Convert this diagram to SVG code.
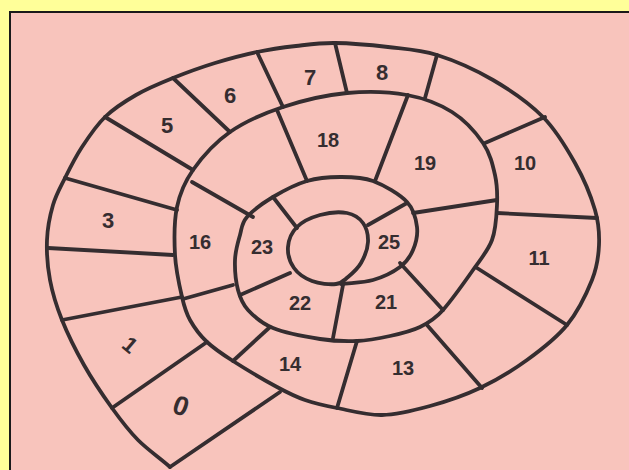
<svg xmlns="http://www.w3.org/2000/svg" width="629" height="470" viewBox="0 0 629 470">
<style>
.ink{fill:none;stroke:#352d30;stroke-width:3.8;stroke-linecap:round;stroke-linejoin:round}
.lbl{font-family:"Liberation Sans",Arial,sans-serif;font-weight:bold;font-size:20px;fill:#352d30;text-anchor:middle;dominant-baseline:central}
.big{font-size:22px}
</style>
<rect x="0" y="0" width="629" height="470" fill="#ffff99"/>
<rect x="10" y="12" width="640" height="480" fill="#f8c4bc" stroke="#1a1a1a" stroke-width="2"/>
<g id="spiral">
<path class="ink" d="M170,467 C160,458 147.7,449.8 138,440 S121,420.5 112,408 S92.3,379.7 84,365 S67.7,334.2 62,320 S52.5,293.3 50,280 S46.5,252.5 47,240 S50,215.3 53,205 S60.2,187.7 65,178 S75.3,157.2 82,147 S96,125.7 105,117 S124.7,101.5 136,95 S159.8,83.3 173,78 S201,67.3 215,63 S243.5,54.8 257,52 S283,47.5 296,46 S319.7,42.8 335,43 S371,45 388,47 S419.5,49.5 437,55 S475.3,69.7 493,80 S529.3,103.2 543,117 S566.3,147.5 575,163 S591,196.3 595,210 S599.5,233.3 599,245 S597.3,266.7 592,280 S577.8,311.7 567,325 S541.5,349.5 527,360 S496.2,380.3 480,388 S446.3,401.5 430,406 S397.5,414.7 382,415 S349.8,410.5 337,408 S315,403.5 305,400 S289,393.5 277,387 S244.7,368.5 233,361 S214.2,348.8 207,342 S194.2,327.5 190,320 S184.5,307.8 182,297 S175.8,270 175,255 S174,221.2 177,207 S184.2,182.5 193,170 S215,142.5 230,132 S263.5,113.5 283,107 S326.3,95 347,93 S389.5,91.8 407,95 S439.3,104 452,112 S475.8,132.5 483,143 S492.7,164.7 495,175 S497.5,194.2 497,205 S496,229.2 492,240 S481.2,258.3 473,270 S450.7,301.2 443,310 S428.8,322.7 420,327 S400.5,333.7 390,336 S368.7,340.5 357,341 S334,341.2 320,339 S285,332.8 273,328 S253.8,316.3 248,310 S240.2,298.3 238,290 S234.7,269.2 235,260 S238,242.2 240,235 S241.5,223.3 247,217 S263,203 273,197 S295.8,184.3 307,181 S329,177 340,177 S361.8,176.8 373,181 S399.7,194.3 407,202 S416,219 417,227 S415.8,243.3 413,250 S406.7,262 400,267 S382.8,277.2 373,280 S351.7,282.7 341,284"/>
<path id="center" class="ink" d="M336,284 C330,284.7 319,283.7 312,281 S298,273.7 294,268 S287.5,253.8 288,247 S291.7,232.3 297,227 S311.7,217.3 320,215 S339.8,211.7 347,213 S359.5,218.2 363,223 S368.3,235.3 368,242 S364.3,257.2 361,263 S352.2,273.5 348,277 S342,283.3 336,284 Z"/>
</g>
<g id="dividers" class="ink">
<line x1="170" y1="467" x2="280" y2="392"/>
<line x1="112" y1="408" x2="207" y2="342"/>
<line x1="62" y1="320" x2="182" y2="297"/>
<line x1="48" y1="248" x2="173" y2="255"/>
<line x1="65" y1="178" x2="177" y2="210"/>
<line x1="105" y1="117" x2="193" y2="170"/>
<line x1="173" y1="78" x2="230" y2="132"/>
<line x1="257" y1="52" x2="283" y2="107"/>
<line x1="335" y1="43" x2="347" y2="93"/>
<line x1="437" y1="55" x2="425" y2="98"/>
<line x1="545" y1="117" x2="485" y2="143"/>
<line x1="497" y1="213" x2="597" y2="218"/>
<line x1="477" y1="268" x2="567" y2="325"/>
<line x1="427" y1="325" x2="482" y2="388"/>
<line x1="357" y1="341" x2="337" y2="408"/>
<line x1="233" y1="361" x2="270" y2="327"/>
<line x1="183" y1="299" x2="233" y2="285"/>
<line x1="192" y1="182" x2="253" y2="217"/>
<line x1="277" y1="110" x2="307" y2="181"/>
<line x1="408" y1="95" x2="375" y2="181"/>
<line x1="497" y1="200" x2="413" y2="213"/>
<line x1="400" y1="263" x2="443" y2="310"/>
<line x1="343" y1="285" x2="333" y2="338"/>
<line x1="240" y1="295" x2="290" y2="273"/>
<line x1="273" y1="197" x2="297" y2="228"/>
<line x1="407" y1="203" x2="368" y2="225"/>
</g>
<g id="labels">
<g id="cell-0"><text class="lbl" x="181" y="406" style="font-size:27px" transform="rotate(20 181 406)">0</text></g>
<g id="cell-1"><text class="lbl big" x="130" y="345" transform="rotate(40 130 345)">1</text></g>
<g id="cell-3"><text class="lbl big" x="108" y="220">3</text></g>
<g id="cell-5"><text class="lbl big" x="167" y="125">5</text></g>
<g id="cell-6"><text class="lbl big" x="230" y="95">6</text></g>
<g id="cell-7"><text class="lbl big" x="310" y="77">7</text></g>
<g id="cell-8"><text class="lbl big" x="382" y="72">8</text></g>
<g id="cell-10"><text class="lbl" x="525" y="163">10</text></g>
<g id="cell-11"><text class="lbl" x="539" y="258">11</text></g>
<g id="cell-13"><text class="lbl" x="403" y="368">13</text></g>
<g id="cell-14"><text class="lbl" x="290" y="364">14</text></g>
<g id="cell-16"><text class="lbl" x="200" y="242">16</text></g>
<g id="cell-18"><text class="lbl" x="328" y="140">18</text></g>
<g id="cell-19"><text class="lbl" x="425" y="163">19</text></g>
<g id="cell-21"><text class="lbl" x="386" y="302">21</text></g>
<g id="cell-22"><text class="lbl" x="300" y="303">22</text></g>
<g id="cell-23"><text class="lbl" x="262" y="247">23</text></g>
<g id="cell-25"><text class="lbl" x="389" y="242">25</text></g>
</g>
</svg>
